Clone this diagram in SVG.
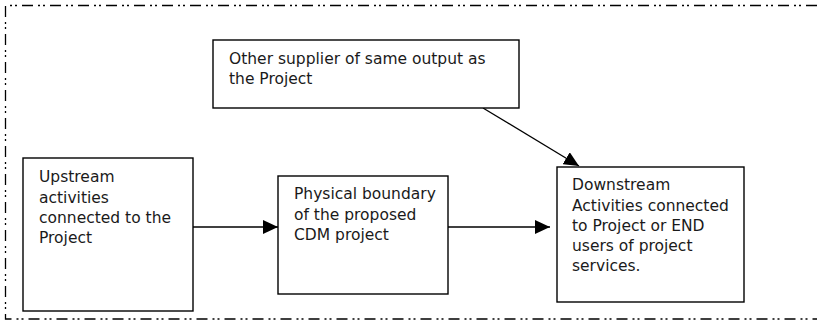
<svg xmlns="http://www.w3.org/2000/svg" width="817" height="328" viewBox="0 0 817 328">
  <style>
    .box { fill: #ffffff; stroke: #000000; stroke-width: 1.4; }
    .label { font-family: "DejaVu Sans", "Liberation Sans", sans-serif; font-size: 15.5px; fill: #1a1a1a; }
    .edge { fill: none; stroke: #000000; stroke-width: 1.3; }
    .frame { fill: none; stroke: #000000; stroke-width: 1.3; stroke-dasharray: 11 5 2 3 2 5; }
  </style>
  <defs>
    <marker id="arrow" viewBox="0 0 15 14" refX="15" refY="7" markerWidth="15" markerHeight="14" markerUnits="userSpaceOnUse" orient="auto">
      <path d="M0,0 L15,7 L0,14 Z" fill="#000000"/>
    </marker>
  </defs>

  <!-- outer dash-dot-dot frame, open on the right -->
  <path class="frame" d="M817,5.5 H5.5 V319 H817"/>

  <g id="connectors">
    <line class="edge" x1="193" y1="227" x2="278" y2="227" marker-end="url(#arrow)"/>
    <line class="edge" x1="448" y1="227" x2="550" y2="227" marker-end="url(#arrow)"/>
    <line class="edge" x1="483" y1="108" x2="579" y2="166" marker-end="url(#arrow)"/>
  </g>

  <g id="other-supplier">
    <rect class="box" x="213" y="40" width="306" height="68"/>
    <text class="label"><tspan x="229" y="64">Other supplier of same output as</tspan><tspan x="229" y="84">the Project</tspan></text>
  </g>

  <g id="upstream">
    <rect class="box" x="23" y="158" width="170" height="153"/>
    <text class="label"><tspan x="39" y="182">Upstream</tspan><tspan x="39" y="202.5">activities</tspan><tspan x="39" y="223">connected to the</tspan><tspan x="39" y="243">Project</tspan></text>
  </g>

  <g id="project-boundary">
    <rect class="box" x="278" y="176" width="170" height="118"/>
    <text class="label"><tspan x="294" y="199">Physical boundary</tspan><tspan x="294" y="219.5">of the proposed</tspan><tspan x="294" y="240">CDM project</tspan></text>
  </g>

  <g id="downstream">
    <rect class="box" x="557" y="167" width="187" height="135"/>
    <text class="label"><tspan x="572" y="190">Downstream</tspan><tspan x="572" y="210.5">Activities connected</tspan><tspan x="572" y="231">to Project or END</tspan><tspan x="572" y="251">users of project</tspan><tspan x="572" y="271">services.</tspan></text>
  </g>
</svg>
